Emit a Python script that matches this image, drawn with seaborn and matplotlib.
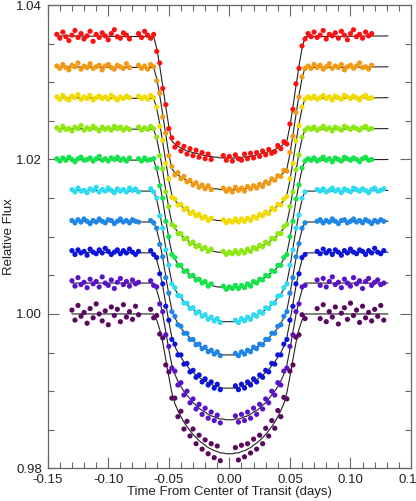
import numpy as np
import pandas as pd
import matplotlib
matplotlib.use('Agg')
import matplotlib.pyplot as plt
import seaborn as sns

# times in units of 1e-4 days, fluxes in units of 1e-4 above 1.0
t_top = [-1425, -1400, -1375, -1350, -1325, -1300, -1275, -1250, -1225, -1200, -1175, -1150, -1125,
         -1100, -1075, -1050, -1025, -1000, -975, -950, -925, -900, -875, -850, -825,
         -750, -725, -700, -675, -650, -625, -600, -575, -550, -525, -500, -475, -450, -425, -400,
         -375, -350, -325, -300, -275, -250, -225, -200, -175, -150,
         -50, -25, 0, 25, 50, 75, 100, 125, 150, 175, 200, 225, 250, 275, 300, 325, 350, 375, 400,
         425, 450, 475, 500, 525, 550, 575, 600, 625,
         650, 675, 700, 725, 750, 775, 800, 825, 850, 875, 900, 925, 950, 975, 1000, 1025, 1050,
         1075, 1100, 1125, 1150, 1175]
t_bot = [-1300, -1275, -1250, -1225, -1200, -1175, -1150, -1125, -1100, -1075, -1050, -1025, -1000,
         -975, -950, -925, -900, -875, -850, -825, -800, -775, -750,
         -650, -625, -600, -575, -550, -525, -500, -475, -450, -425, -400, -375, -350, -325, -300,
         -275, -250, -225, -200, -175, -150, -125, -100, -75,
         50, 75, 100, 125, 150, 175, 200, 225, 250, 275, 300, 325, 350, 375, 400, 425, 450, 475,
         500, 525, 550, 575, 600, 625,
         725, 750, 775, 800, 825, 850, 875, 900, 925, 950, 975, 1000, 1025, 1050, 1075, 1100,
         1125, 1150, 1175, 1200, 1225, 1250, 1275]

red = [362, 357, 365, 359, 354, 361, 367, 358, 363, 356, 360, 366, 353, 362, 358, 364, 360, 355, 363, 368, 359, 357, 364, 361, 356,
       363, 358, 366, 361, 357, 362, 340, 325, 292, 271, 240, 228, 216, 221, 211, 217, 207, 214, 205, 212, 203, 209, 201, 207, 200,
       205, 199, 204, 198, 206, 201, 199, 207, 201, 208, 202, 209, 204, 211, 206, 213, 208, 210, 218, 214, 223, 220, 246, 265, 298, 318, 347, 356,
       363, 359, 365, 358, 361, 367, 356, 362, 360, 364, 357, 366, 361, 355, 363, 368, 359, 362, 357, 365, 360, 363]
orange = [321, 318, 323, 319, 316, 322, 320, 325, 317, 321, 319, 324, 318, 320, 322, 316, 321, 323, 319, 317, 322, 320, 318, 324, 319,
          322, 318, 321, 317, 323, 320, 302, 286, 255, 234, 205, 191, 180, 183, 175, 178, 171, 173, 167, 170, 164, 167, 162, 166, 161,
          163, 159, 162, 158, 164, 160, 163, 159, 165, 162, 166, 163, 168, 165, 171, 169, 175, 173, 179, 178, 186, 185, 209, 230, 261, 281, 307, 318,
          321, 318, 323, 319, 322, 317, 320, 324, 318, 321, 319, 323, 316, 320, 322, 318, 321, 325, 319, 320, 317, 322]
yellow = [281, 278, 283, 279, 277, 282, 280, 284, 278, 281, 279, 283, 277, 280, 282, 279, 281, 278, 283, 280, 277, 281, 279, 282, 280,
          282, 279, 281, 278, 283, 280, 268, 243, 225, 195, 175, 151, 149, 141, 142, 135, 137, 130, 132, 127, 129, 124, 126, 121, 124,
          122, 118, 121, 119, 123, 119, 123, 120, 124, 121, 126, 124, 129, 127, 132, 130, 137, 135, 142, 141, 149, 152, 175, 195, 224, 244, 268, 278,
          281, 279, 282, 278, 280, 283, 279, 281, 277, 282, 280, 278, 283, 281, 279, 282, 280, 277, 281, 283, 279, 280]
lime = [241, 238, 243, 239, 240, 237, 242, 240, 244, 238, 241, 239, 243, 240, 237, 242, 239, 241, 238, 243, 240, 242, 238, 241, 239,
        242, 238, 241, 239, 243, 240, 229, 205, 188, 158, 139, 116, 113, 104, 104, 97, 98, 91, 93, 87, 89, 84, 86, 81, 84,
        81, 77, 80, 78, 82, 78, 82, 79, 84, 81, 86, 84, 89, 87, 93, 91, 98, 97, 104, 104, 113, 116, 139, 158, 187, 206, 229, 238,
        241, 239, 242, 238, 240, 243, 239, 241, 237, 242, 240, 238, 243, 241, 239, 242, 240, 238, 241, 243, 239, 240]
green = [201, 198, 202, 199, 203, 200, 197, 201, 203, 199, 200, 202, 198, 201, 204, 199, 201, 198, 202, 200, 203, 199, 201, 198, 202,
         201, 198, 202, 199, 200, 201, 189, 166, 150, 120, 100, 77, 73, 63, 63, 55, 56, 49, 50, 44, 45, 40, 42, 36, 39,
         36, 32, 35, 33, 37, 33, 37, 34, 39, 36, 42, 40, 45, 44, 50, 49, 56, 55, 63, 63, 73, 77, 100, 120, 149, 167, 189, 198,
         201, 199, 202, 198, 200, 203, 199, 201, 197, 202, 200, 198, 203, 201, 199, 202, 200, 197, 201, 203, 199, 200]
cyan = [161, 158, 163, 159, 160, 157, 162, 160, 164, 158, 161, 159, 163, 160, 157, 162, 159, 161, 158, 163, 160, 162, 158,
        162, 158, 150, 127, 111, 83, 63, 39, 34, 24, 23, 14, 14, 7, 8, 1, 3, -3, -1, -7, -4, -9, -6, -11,
        -8, -11, -6, -9, -4, -7, -1, -3, 3, 1, 8, 7, 14, 14, 23, 24, 34, 39, 63, 83, 111, 128, 150, 158,
        161, 159, 162, 158, 160, 163, 159, 161, 157, 162, 160, 158, 163, 161, 159, 162, 160, 157, 161, 163, 159, 160, 162]
azure = [121, 118, 122, 119, 123, 120, 117, 121, 119, 123, 120, 118, 122, 121, 117, 120, 123, 119, 121, 118, 122, 120, 119,
         121, 118, 111, 90, 74, 47, 27, 3, -3, -14, -16, -25, -25, -33, -33, -40, -39, -45, -43, -49, -47, -52, -49, -54,
         -51, -54, -49, -52, -47, -49, -43, -45, -39, -40, -33, -33, -25, -25, -16, -14, -3, 3, 27, 47, 74, 91, 111, 118,
         120, 122, 118, 121, 119, 123, 120, 117, 121, 122, 118, 120, 123, 119, 121, 118, 122, 120, 117, 121, 119, 122, 120]
blue = [82, 77, 83, 79, 81, 76, 84, 80, 78, 83, 79, 85, 81, 77, 80, 83, 78, 82, 79, 84, 80, 77, 81,
        82, 77, 73, 52, 39, 10, -8, -33, -39, -53, -53, -65, -64, -75, -73, -82, -79, -88, -84, -92, -88, -96, -91, -98,
        -93, -98, -91, -96, -88, -92, -84, -88, -79, -82, -73, -75, -64, -65, -53, -53, -39, -33, -8, 10, 39, 52, 73, 77,
        81, 78, 84, 79, 82, 77, 83, 80, 76, 82, 79, 84, 80, 78, 83, 81, 77, 82, 79, 85, 80, 78, 82]
violet = [43, 36, 47, 38, 41, 34, 45, 39, 42, 35, 48, 40, 37, 44, 33, 41, 46, 38, 42, 36, 44, 39, 41,
          43, 37, 35, 13, 3, -27, -42, -70, -74, -92, -89, -105, -100, -115, -110, -123, -117, -130, -122, -135, -127, -138, -131, -141,
          -132, -140, -130, -138, -127, -135, -122, -130, -117, -123, -110, -115, -100, -105, -89, -92, -74, -70, -42, -27, 3, 13, 35, 37,
          44, 37, 46, 35, 42, 48, 38, 41, 34, 45, 40, 36, 47, 39, 43, 33, 42, 46, 37, 41, 44, 38, 40]
purple = [5, -8, 11, -3, 2, -12, 7, -5, 13, 0, -9, 4, -14, 9, -2, 6, -10, 12, -4, 3, -7, 10, -1,
          6, -5, -2, -26, -31, -66, -75, -109, -109, -133, -126, -149, -139, -158, -149, -168, -157, -175, -163, -181, -168, -186, -171, -190,
          -173, -189, -170, -185, -168, -180, -162, -175, -157, -168, -148, -158, -138, -148, -125, -133, -108, -110, -74, -66, -30, -27, -1, -6,
          7, -6, 12, -10, 3, -4, 9, -13, 1, 8, -7, 14, -2, 5, -11, 10, -5, 2, -9, 6, -3, 11, -8]

# transit model, half curve from mid-transit outwards (same units)
model_t = [0, 25, 50, 75, 100, 125, 150, 175, 200, 225, 250, 275, 300, 325, 350, 375, 400, 425, 450,
           475, 500, 525, 550, 575, 600, 625]
models = {
    'red':    [202, 202, 202, 202, 203, 203, 204, 204, 205, 206, 207, 208, 209, 210, 211, 213, 215, 217, 220, 224, 243, 268, 295, 321, 344, 359],
    'orange': [161, 161, 161, 161, 162, 162, 163, 164, 164, 165, 166, 168, 169, 171, 173, 175, 177, 180, 183, 188, 207, 232, 258, 283, 305, 319],
    'yellow': [120, 120, 120, 121, 121, 122, 122, 123, 124, 126, 127, 129, 130, 132, 135, 137, 140, 143, 147, 154, 173, 197, 222, 246, 266, 279],
    'lime':   [79, 79, 79, 80, 80, 81, 82, 83, 84, 86, 87, 89, 91, 93, 96, 99, 102, 106, 111, 118, 137, 160, 185, 208, 227, 239],
    'green':  [34, 34, 34, 35, 35, 36, 37, 38, 40, 42, 43, 46, 48, 51, 54, 57, 61, 65, 71, 79, 98, 122, 147, 169, 187, 199],
    'cyan':   [-10, -10, -10, -9, -8, -7, -6, -5, -3, -1, 1, 3, 6, 9, 12, 16, 21, 26, 32, 41, 61, 85, 109, 130, 148, 159],
    'azure':  [-53, -53, -53, -52, -51, -50, -49, -47, -45, -43, -41, -38, -35, -31, -27, -23, -18, -12, -5, 5, 25, 49, 72, 93, 109, 119],
    'blue':   [-96, -96, -96, -95, -94, -93, -91, -89, -87, -85, -82, -79, -76, -72, -67, -62, -56, -50, -42, -30, -10, 13, 36, 55, 70, 79],
    'violet': [-137, -137, -136, -136, -135, -133, -132, -130, -127, -125, -122, -118, -115, -110, -105, -100, -94, -87, -78, -66, -46, -23, -1, 17, 31, 40],
    'purple': [-181, -181, -180, -180, -178, -177, -175, -173, -170, -167, -164, -160, -156, -151, -146, -140, -133, -125, -116, -102, -81, -59, -37, -20, -8, 0],
}
baselines = {'red': 360, 'orange': 320, 'yellow': 280, 'lime': 240, 'green': 200,
             'cyan': 160, 'azure': 120, 'blue': 80, 'violet': 40, 'purple': 0}
colors = {'red': '#ff1010', 'orange': '#f39a14', 'yellow': '#f2dc00', 'lime': '#8fe812', 'green': '#14e44a',
          'cyan': '#2edcf2', 'azure': '#1f86e6', 'blue': '#0c14dc', 'violet': '#5a14c8', 'purple': '#5a0a5e'}
obs = {'red': (t_top, red), 'orange': (t_top, orange), 'yellow': (t_top, yellow), 'lime': (t_top, lime),
       'green': (t_top, green), 'cyan': (t_bot, cyan), 'azure': (t_bot, azure), 'blue': (t_bot, blue),
       'violet': (t_bot, violet), 'purple': (t_bot, purple)}
line_start = {'red': -1425, 'orange': -1425, 'yellow': -1425, 'lime': -1425, 'green': -1425,
              'cyan': -1300, 'azure': -1300, 'blue': -1300, 'violet': -1300, 'purple': -1300}
line_end = 1310

pts = []
for band, (tt, ff) in obs.items():
    pts.append(pd.DataFrame({'band': band, 't': np.array(tt) * 1e-4, 'flux': 1 + np.array(ff) * 1e-4}))
pts = pd.concat(pts, ignore_index=True)

lines = []
for band, m in models.items():
    tl = [line_start[band]] + [-x for x in model_t[::-1]] + model_t[1:] + [line_end]
    fl = [baselines[band]] + m[::-1] + m[1:] + [baselines[band]]
    lines.append(pd.DataFrame({'band': band, 't': np.array(tl) * 1e-4, 'flux': 1 + np.array(fl) * 1e-4}))
lines = pd.concat(lines, ignore_index=True)

sns.set_style('ticks')
plt.rcParams['font.family'] = ['Liberation Sans', 'DejaVu Sans']

fig = plt.figure(figsize=(4.16, 5.01), dpi=100)
ax = fig.add_axes([0.1147, 0.065, 0.8733, 0.925])

sns.lineplot(data=lines, x='t', y='flux', units='band', estimator=None, sort=False,
             color='#222222', lw=0.8, ax=ax, legend=False, zorder=1)
sns.scatterplot(data=pts, x='t', y='flux', hue='band', palette=colors, s=14, linewidth=0,
                ax=ax, legend=False, zorder=2)

ax.set_xlim(-0.15, 0.15)
ax.set_ylim(0.98, 1.04)
ax.set_xticks([-0.15, -0.10, -0.05, 0.0, 0.05, 0.10, 0.15])
ax.set_xticklabels(['-0.15', '-0.10', '-0.05', '0.00', '0.05', '0.10', '0.15'])
ax.set_xticks(np.arange(-0.15, 0.1501, 0.01), minor=True)
ax.set_yticks([0.98, 1.00, 1.02, 1.04])
ax.set_yticklabels(['0.98', '1.00', '1.02', '1.04'])
ax.set_yticks(np.arange(0.98, 1.0401, 0.005), minor=True)
ax.tick_params(which='both', direction='in', top=True, right=True, colors='#666666',
               labelcolor='#222222', labelsize=9.5, pad=4)
ax.tick_params(which='major', length=8, width=0.8)
ax.tick_params(which='minor', length=4, width=0.8)
for sp in ax.spines.values():
    sp.set_color('#666666')
    sp.set_linewidth(0.9)
ax.set_xlabel('Time From Center of Transit (days)', fontsize=9.5, color='#222222', labelpad=0)
ax.set_ylabel('Relative Flux', fontsize=9.5, color='#222222', labelpad=1)

fig.savefig('out.png', dpi=100)
